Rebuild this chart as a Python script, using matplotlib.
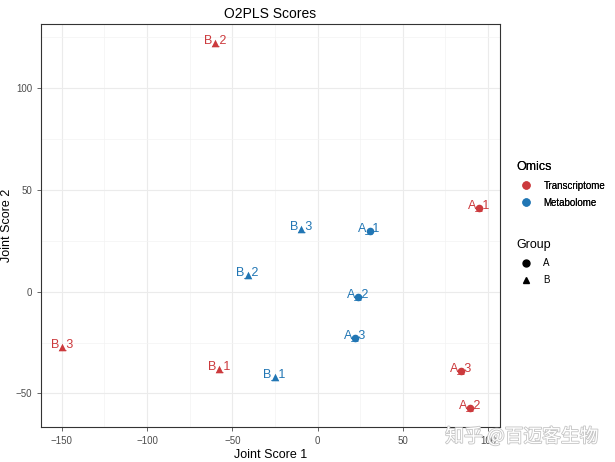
"""O2PLS joint scores scatter."""
import matplotlib
matplotlib.use("Agg")
import matplotlib.pyplot as plt
import matplotlib.patheffects as pe
from matplotlib.lines import Line2D
import numpy as np

plt.rcParams["font.family"] = ["Liberation Sans", "DejaVu Sans"]

# data
sample_labels = ["A_1", "A_2", "A_3", "B_1", "B_2", "B_3"]
groups = ["A", "A", "A", "B", "B", "B"]
transcriptome_x = [94.8, 89.7, 84.0, -57.6, -60.0, -150.0]
transcriptome_y = [41.2, -57.4, -38.9, -38.2, 122.4, -27.2]
metabolome_x = [30.5, 23.7, 22.1, -25.2, -41.0, -9.7]
metabolome_y = [29.7, -2.6, -22.7, -41.9, 8.3, 30.9]

OMICS_COLORS = {"Transcriptome": "#CC3A3D", "Metabolome": "#2176B4"}
GROUP_MARKERS = {"A": "o", "B": "^"}

fig = plt.figure(figsize=(6.15, 4.62), dpi=100)
ax = fig.add_axes([0.0667, 0.0764, 0.7463, 0.8706])

series = [
    ("Transcriptome", transcriptome_x, transcriptome_y),
    ("Metabolome", metabolome_x, metabolome_y),
]
for omics, xs, ys in series:
    color = OMICS_COLORS[omics]
    for lab, grp, x, y in zip(sample_labels, groups, xs, ys):
        ax.scatter(x, y, marker=GROUP_MARKERS[grp], s=30, color=color,
                   zorder=3, linewidths=0)
        ax.text(x, y, lab, color=color, fontsize=9, ha="center",
                va="baseline", zorder=4)

ax.set_xticks([-150, -100, -50, 0, 50, 100])
ax.set_yticks([-50, 0, 50, 100])
ax.set_xticks(np.arange(-175, 125, 50), minor=True)
ax.set_yticks(np.arange(-75, 150, 50), minor=True)

# ggplot-like 5% expansion (set after ticks so they don't widen the view)
all_x = np.array(transcriptome_x + metabolome_x)
all_y = np.array(transcriptome_y + metabolome_y)
dx = (all_x.max() - all_x.min()) * 0.05
dy = (all_y.max() - all_y.min()) * 0.05
ax.set_xlim(all_x.min() - dx, all_x.max() + dx)
ax.set_ylim(all_y.min() - dy, all_y.max() + dy)

ax.grid(True, which="major", color="#EBEBEB", linewidth=0.8)
ax.grid(True, which="minor", color="#F3F3F3", linewidth=0.5)
ax.set_axisbelow(True)
ax.tick_params(which="major", labelsize=7, colors="#4D4D4D", length=3, width=0.6)
ax.tick_params(which="minor", length=0)
for sp in ax.spines.values():
    sp.set_color("#333333")
    sp.set_linewidth(0.8)

ax.set_xlabel("Joint Score 1", fontsize=9, labelpad=2)
ax.set_ylabel("Joint Score 2", fontsize=9, labelpad=2)
ax.set_title("O2PLS Scores", fontsize=10, pad=5)

omics_handles = [
    Line2D([], [], marker="o", linestyle="", color=c, markersize=5, label=k)
    for k, c in OMICS_COLORS.items()
]
group_handles = [
    Line2D([], [], marker=m, linestyle="", color="black", markersize=5, label=k)
    for k, m in GROUP_MARKERS.items()
]
leg1 = fig.legend(handles=omics_handles, title="Omics", loc="upper left",
                  bbox_to_anchor=(0.825, 0.67), frameon=False, fontsize=7,
                  title_fontsize=9, handletextpad=0.8, labelspacing=0.75,
                  alignment="left")
fig.add_artist(leg1)
fig.legend(handles=group_handles, title="Group", loc="upper left",
           bbox_to_anchor=(0.825, 0.502), frameon=False, fontsize=7,
           title_fontsize=9, handletextpad=0.8, labelspacing=0.75,
           alignment="left")

# watermark
fig.text(0.724, 0.055, "知乎 @百迈客生物", fontsize=13.5, color="white",
         family=["Noto Sans CJK SC", "DejaVu Sans"], va="center",
         path_effects=[pe.withStroke(linewidth=1.2, foreground="#C4C4C4")])

fig.savefig("out.png", dpi=100)
